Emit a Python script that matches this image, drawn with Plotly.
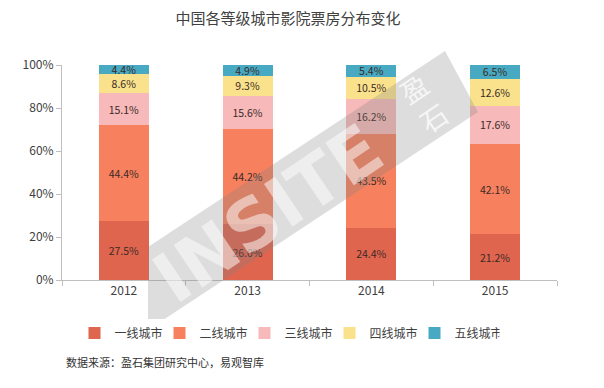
import plotly.graph_objects as go

years = ["2012", "2013", "2014", "2015"]
tier1 = [27.5, 26.0, 24.4, 21.2]
tier2 = [44.4, 44.2, 43.5, 42.1]
tier3 = [15.1, 15.6, 16.2, 17.6]
tier4 = [8.6, 9.3, 10.5, 12.6]
tier5 = [4.4, 4.9, 5.4, 6.5]
series_names = ["一线城市", "二线城市", "三线城市", "四线城市", "五线城市"]
series_vals = [tier1, tier2, tier3, tier4, tier5]
colors = ["#E0654F", "#F7805F", "#F7B9B9", "#FAE28C", "#47A9C2"]

W, H = 604, 388
OFF = 8  # page body margin offset
# plot area in reference pixels
PX0, PX1, PY0, PY1 = 62, 557, 65, 280
L = PX0 - OFF
R = W - (PX1 - OFF)
T = PY0 - OFF
B = H - (PY1 - OFF)

fig = go.Figure()
for name, vals, c in zip(series_names, series_vals, colors):
    fig.add_trace(go.Bar(
        x=years, y=vals, name=name, marker=dict(color=c, line=dict(width=0)),
        text=vals, texttemplate="%{y:.1f}%", textposition="inside",
        insidetextanchor="middle", textangle=0, constraintext="none",
        textfont=dict(size=10.5, color="#3a2a25"),
        hoverinfo="skip"))

# reference pixel -> paper coords
def px(x):
    return (x - PX0) / (PX1 - PX0)
def py(y):
    return (PY1 - y) / (PY1 - PY0)

pts = [(148, 247), (445, 51), (478, 112), (148, 330)]
path = "M " + " L ".join(f"{px(a):.4f},{py(b):.4f}" for a, b in pts) + " Z"
fig.add_shape(type="path", path=path, xref="paper", yref="paper",
              fillcolor="rgba(128,128,128,0.27)", line=dict(width=0), layer="above")
fig.add_annotation(x=px(268), y=py(214), xref="paper", yref="paper", text="<b>INSITE</b>",
                   textangle=-34, showarrow=False, xanchor="center", yanchor="middle",
                   font=dict(size=70, color="rgba(255,255,255,0.5)", family="DejaVu Sans"))
fig.add_annotation(x=px(423), y=py(103), xref="paper", yref="paper", text="盈<br>石",
                   textangle=-34, showarrow=False, xanchor="center", yanchor="middle",
                   font=dict(size=27, color="rgba(255,255,255,0.75)", family="Noto Sans CJK SC"))

fig.update_layout(
    width=W, height=H, barmode="stack", bargap=0.595,
    margin=dict(l=L, r=R, t=T, b=B, autoexpand=False),
    paper_bgcolor="white", plot_bgcolor="white",
    font=dict(family="Noto Sans CJK SC, Noto Sans, sans-serif", color="#404040", size=12),
    title=dict(text="中国各等级城市影院票房分布变化", x=(288 - OFF) / W, xanchor="center",
               y=1 - 11 / H, yanchor="middle", pad=dict(t=0, b=0),
               font=dict(size=15, color="#404040")),
    showlegend=True,
    legend=dict(orientation="h", x=px(287), xanchor="center", y=py(333), yanchor="middle",
                font=dict(size=12, color="#404040"), traceorder="normal",
                entrywidth=40, itemwidth=30),
    xaxis=dict(type="category", showline=True, linecolor="#BFBFBF", linewidth=1,
               ticks="outside", ticklen=5, tickcolor="#BFBFBF", tickson="boundaries",
               tickfont=dict(size=12, color="#404040"), showgrid=False),
    yaxis=dict(range=[0, 100], dtick=20, ticksuffix="%", showline=True, linecolor="#BFBFBF",
               ticks="outside", ticklen=5, tickcolor="#BFBFBF", showgrid=False, zeroline=False,
               tickfont=dict(size=12, color="#404040")),
)
fig.add_annotation(x=(10 - OFF) / W, y=py(362), xref="paper", yref="paper", xanchor="left",
                   yanchor="middle", text="数据来源：盈石集团研究中心，易观智库", showarrow=False,
                   font=dict(size=11, color="#333333"))
fig.write_html("out.html")
